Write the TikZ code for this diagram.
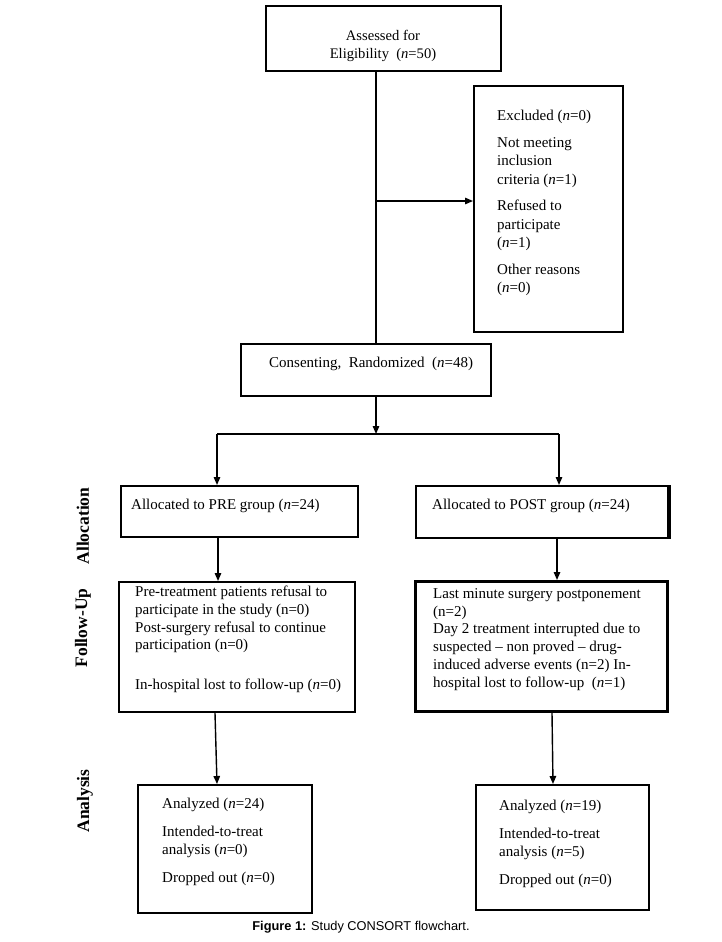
\documentclass[tikz,border=0pt]{standalone}
\usepackage{fontspec}
\setmainfont{Liberation Serif}
\setsansfont{Liberation Sans}
\usetikzlibrary{arrows.meta}
\tikzset{
  box/.style={draw, line width=2pt, inner sep=0pt, anchor=north west},
  txt/.style={inner sep=0pt, anchor=north west, align=left, font=\fontsize{15}{18.3}\selectfont},
  side/.style={inner sep=0pt, rotate=90, font=\fontsize{17.5}{19}\selectfont\bfseries},
  conn/.style={line width=1.4pt},
  arr/.style={line width=1.4pt, -{Triangle[length=8pt,width=6.5pt]}}
}
\begin{document}
\begin{tikzpicture}[x=1pt,y=-1pt]
\useasboundingbox (0,0) rectangle (721,942);
% boxes
\node[box, minimum width=235pt, minimum height=65pt] (top) at (265,5) {};
\node[box, minimum width=149pt, minimum height=246pt] (excl) at (473,85) {};
\node[box, minimum width=250pt, minimum height=52pt] (cons) at (240,343) {};
\node[box, minimum width=237pt, minimum height=51pt] (pre) at (120,485) {};
\node[box, minimum width=252pt, minimum height=52pt] (post) at (415,485) {};
\node[box, line width=2.8pt, minimum width=252pt, minimum height=130pt] (fub) at (414,580) {};
\node[box, minimum width=236pt, minimum height=130pt] (fua) at (118,581) {};
\node[box, minimum width=174pt, minimum height=128pt] (ana) at (137,784) {};
\node[box, minimum width=173pt, minimum height=125pt] (anb) at (475,784) {};
\draw[line width=3.5pt] (post.north east) -- (post.south east);
% texts
\node[txt, anchor=north, align=center, font=\fontsize{14.6}{18}\selectfont] (ttop) at (383,30) {Assessed for\\Eligibility\ \ (\textit{n}=50)};
\node[txt] (texcl) at (497,110) {Excluded (\textit{n}=0)\\[8.5pt]Not meeting\\inclusion\\criteria (\textit{n}=1)\\[8.5pt]Refused to\\participate\\(\textit{n}=1)\\[8.5pt]Other reasons\\(\textit{n}=0)};
\node[txt] (tcons) at (269,357) {Consenting,\ \ Randomized\ \ (\textit{n}=48)};
\node[txt] (tpre) at (131,499) {Allocated to PRE group (\textit{n}=24)};
\node[txt] (tpost) at (432,499) {Allocated to POST group (\textit{n}=24)};
\node[txt, font=\fontsize{15}{17.7}\selectfont] (tfua) at (135,586) {Pre-treatment patients refusal to\\participate\ in the study (n=0)\\Post-surgery refusal to continue\\participation\ (n=0)\\[21.6pt]In-hospital lost to follow-up (\textit{n}=0)};
\node[txt, font=\fontsize{15}{17.9}\selectfont] (tfub) at (433,588) {Last minute surgery postponement\\(n=2)\\Day 2 treatment interrupted due to\\suspected -- non proved -- drug-\\induced adverse events (n=2) In-\\hospital lost to follow-up\ \ (\textit{n}=1)};
\node[txt] (tana) at (162,798) {Analyzed (\textit{n}=24)\\[9.5pt]Intended-to-treat\\analysis (\textit{n}=0)\\[9.5pt]Dropped out (\textit{n}=0)};
\node[txt] (tanb) at (499,800) {Analyzed (\textit{n}=19)\\[9.5pt]Intended-to-treat\\analysis (\textit{n}=5)\\[9.5pt]Dropped out (\textit{n}=0)};
% side labels
\node[side] (lalloc) at (83,526) {Allocation};
\node[side] (lfollow) at (83,628) {Follow-Up};
\node[side] (lanal) at (85,801) {Analysis};
% caption
\node[inner sep=0pt, font=\sffamily\fontsize{12.8}{15}\selectfont] (cap) at (361,927) {\textbf{Figure 1:} Study CONSORT flowchart.};
% connectors
\coordinate (mx) at (376,0);
\coordinate (jex) at (376,201);
\coordinate (jsplit) at (376,434);
\coordinate (sl) at (217,434);
\coordinate (sr) at (559,434);
\draw[conn] (top.south -| mx) -- (cons.north -| mx);
\draw[arr] (jex) -- (excl.west |- jex);
\draw[arr] (cons.south -| mx) -- (jsplit);
\draw[conn] (sl) -- (sr);
\draw[arr] (sl) -- (pre.north -| sl);
\draw[arr] (sr) -- (post.north -| sr);
\coordinate (pa) at (218,0);
\coordinate (pb) at (557,0);
\draw[arr] (pre.south -| pa) -- (fua.north -| pa);
\draw[arr] (post.south -| pb) -- (fub.north -| pb);
\coordinate (qa1) at (215,0);
\coordinate (qa2) at (217,0);
\coordinate (qb1) at (552,0);
\coordinate (qb2) at (553,0);
\draw[arr] (fua.south -| qa1) -- (ana.north -| qa2);
\draw[arr] (fub.south -| qb1) -- (anb.north -| qb2);
\end{tikzpicture}
\end{document}
